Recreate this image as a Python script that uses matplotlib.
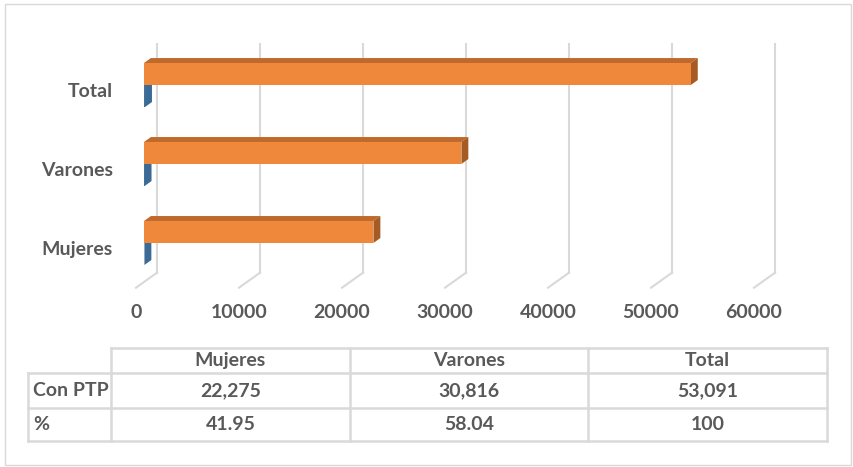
import matplotlib.pyplot as plt
from matplotlib.patches import Polygon, Rectangle

# data
categories = ['Mujeres', 'Varones', 'Total']
con_ptp = [22275, 30816, 53091]
porcentaje = [41.95, 58.04, 100]
row_labels = ['Con PTP', '%']
con_ptp_txt = ['22,275', '30,816', '53,091']
pct_txt = ['41.95', '58.04', '100']
xticks = [0, 10000, 20000, 30000, 40000, 50000, 60000]

# colours / fonts
orange = ['#F0883B', '#C0692C', '#A65B24']   # front, top, side
blue = ['#41719C', '#35608A', '#3B6A95']
grid_c = '#D9D9D9'
txt_c = '#595959'
font = dict(family=['Lato', 'DejaVu Sans'], fontweight='bold', fontsize=14, color=txt_c)

W, H = 854, 467
fig = plt.figure(figsize=(W / 100, H / 100), dpi=100)

# main plot area (bar front plane), pixel layout
left_px, right_px = 144, 762
top_px, bot_px = 44, 282
ylo, yhi = -0.494, 2.519
ax = fig.add_axes([left_px / W, 1 - bot_px / H, (right_px - left_px) / W, (bot_px - top_px) / H])
ax.set_xlim(0, 60000)
ax.set_ylim(ylo, yhi)
ax.axis('off')

# pixel -> data units
ux = 60000 / (right_px - left_px)
uy = (yhi - ylo) / (bot_px - top_px)

# 3D depth vector (pixels), bar occupies fraction f0..f1 of depth
D = (21, 15)
f0, f1 = 0.38, 0.71
def off(f):
    return (f - f0) * D[0] * ux, (f - f0) * D[1] * uy

bx, by = off(f1)
wx, wy = off(1.0)
fx, fy = off(0.0)

# back wall gridlines + floor diagonals
for v in xticks:
    ax.plot([v + wx, v + wx], [ylo + wy, yhi], color=grid_c, lw=1.5, clip_on=False, zorder=1)
    ax.plot([v + wx, v + fx], [ylo + wy, ylo + fy], color=grid_c, lw=1.5, clip_on=False, zorder=1)

h = 22 * uy
def bar3d(v, y0, cols, z):
    ax.add_patch(Polygon([(0, y0 + h), (v, y0 + h), (v + bx, y0 + h + by), (bx, y0 + h + by)],
                         closed=True, facecolor=cols[1], edgecolor='none', zorder=z, clip_on=False))
    ax.add_patch(Polygon([(v, y0), (v, y0 + h), (v + bx, y0 + h + by), (v + bx, y0 + by)],
                         closed=True, facecolor=cols[2], edgecolor='none', zorder=z, clip_on=False))
    ax.add_patch(Rectangle((0, y0), v, h, facecolor=cols[0], edgecolor='none', zorder=z + 0.5, clip_on=False))

for i, cat in enumerate(categories):
    bar3d(porcentaje[i], i - h, blue, 2)
    bar3d(con_ptp[i], i, orange, 3)
    ax.text(-31 * ux, i - 7 * uy, cat, ha='right', va='center', **font)

for v in xticks:
    ax.text(v + fx, ylo - 31 * uy, str(v), ha='center', va='center', **font)

# overlay in pixel coordinates for the table and border
ov = fig.add_axes([0, 0, 1, 1])
ov.set_xlim(0, W)
ov.set_ylim(H, 0)
ov.axis('off')
ov.add_patch(Rectangle((5, 4), 846, 461, facecolor='none', edgecolor=grid_c, lw=1))

t_left, t_lab, t_right = 28, 111, 827
rows_y = [348, 373, 408, 441]
colw = (t_right - t_lab) / len(categories)
cols_x = [t_lab + k * colw for k in range(len(categories) + 1)]
lk = dict(color=grid_c, lw=1.8)
ov.plot([t_lab, t_right], [rows_y[0]] * 2, **lk)
for yy in rows_y[1:]:
    ov.plot([t_left, t_right], [yy, yy], **lk)
ov.plot([t_left, t_left], [rows_y[1], rows_y[3]], **lk)
for xx in cols_x:
    ov.plot([xx, xx], [rows_y[0], rows_y[3]], **lk)

cells = [categories, con_ptp_txt, pct_txt]
for r in range(3):
    yc = (rows_y[r] + rows_y[r + 1]) / 2
    for c in range(3):
        ov.text((cols_x[c] + cols_x[c + 1]) / 2, yc, cells[r][c], ha='center', va='center', **font)
    if r > 0:
        ov.text(t_left + 5, yc, row_labels[r - 1], ha='left', va='center', **font)

fig.savefig('out.png', dpi=100)
